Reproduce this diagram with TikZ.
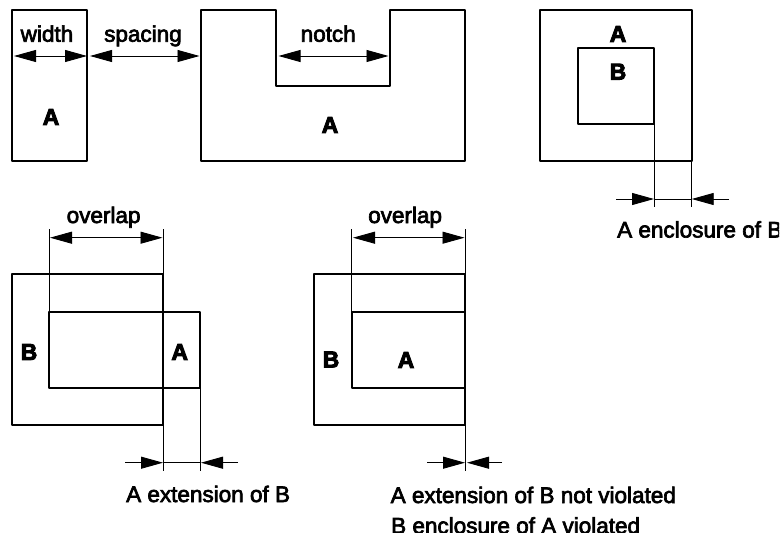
\documentclass[tikz,border=0pt]{standalone}
\usepackage{fontspec}
\setmainfont{Liberation Sans}
\newfontfamily\dimfont[FakeBold=3]{Liberation Sans}
\newfontfamily\layerfont[FakeBold=4]{Liberation Sans Bold}
\usetikzlibrary{arrows.meta}
\tikzset{
  shapeline/.style={line width=2pt, line join=round},
  dimline/.style={line width=0.9pt, {Triangle[length=22pt,width=12pt]}-{Triangle[length=22pt,width=12pt]}},
  tipline/.style={line width=0.9pt, -{Triangle[length=22pt,width=12pt]}},
  extline/.style={line width=0.9pt},
  dimlabel/.style={anchor=base west, inner sep=0pt, font=\dimfont\fontsize{22.5}{24}\selectfont},
  layerlabel/.style={inner sep=0pt, font=\layerfont\fontsize{23}{24}\selectfont},
}
\begin{document}
\begin{tikzpicture}[x=1pt,y=-1pt]
\useasboundingbox (0,0) rectangle (783,537);
\clip (0,0) rectangle (779,532);

% top row
\path[draw,shapeline] (11.7,10) rectangle (87.3,161.3);
\path[draw,shapeline] (200.5,10) -- (276,10) -- (276,85.7) -- (389.5,85.7) -- (389.5,10)
  -- (465,10) -- (465,161.3) -- (200.5,161.3) -- cycle;
\path[draw,shapeline] (540.3,10) rectangle (691.7,161.3);
\path[draw,shapeline] (578.3,47.7) rectangle (654,123.7);

\node[layerlabel] (widtha) at (51,117) {A};
\node[layerlabel] (notcha) at (330,125) {A};
\node[layerlabel] (encla) at (618,34) {A};
\node[layerlabel] (enclb) at (618,71.7) {B};

\node[dimlabel] (widthlab) at (20.5,41.7) {width};
\node[dimlabel] (spacinglab) at (104,41.7) {spacing};
\node[dimlabel] (notchlab) at (300.5,41.7) {notch};

\draw[dimline] (14,56) to (87,56);
\draw[dimline] (90,56) to (199.5,56);
\draw[dimline] (278.5,56) to (388.5,56);

% enclosure
\draw[extline] (654,123.7) to (654,206.7);
\draw[extline] (691.7,161.3) to (691.7,206.7);
\draw[tipline] (616,199) to (654,199);
\draw[tipline] (729,199) to (691.7,199);
\draw[extline] (654,199) to (691.7,199);
\node[dimlabel] (encllab) at (617,237.5) {A enclosure of B};

% lower left
\path[draw,shapeline] (11.7,274.3) rectangle (163,425.3);
\path[draw,shapeline] (49.3,312.3) rectangle (200.3,387.7);
\node[layerlabel] (leftb) at (29,352) {B};
\node[layerlabel] (lefta) at (179.7,352) {A};

\node[dimlabel] (overlaplab) at (66.5,223) {overlap};
\draw[extline] (49.3,229.3) to (49.3,312.3);
\draw[extline] (163,229.3) to (163,471);
\draw[extline] (200.3,387.7) to (200.3,471);
\draw[dimline] (50,237.7) to (162.5,237.7);
\draw[tipline] (125,462.7) to (163,462.7);
\draw[tipline] (238,462.7) to (201,462.7);
\draw[extline] (163,462.7) to (200.3,462.7);
\node[dimlabel] (extlab) at (126,502) {A extension of B};

% lower middle
\path[draw,shapeline] (314,274.3) rectangle (465,425.3);
\path[draw,shapeline] (351.7,312.3) rectangle (465,387.7);
\node[layerlabel] (midb) at (331,359.5) {B};
\node[layerlabel] (mida) at (406,360) {A};

\node[dimlabel] (overlapmid) at (368,223) {overlap};
\draw[extline] (351.7,229.3) to (351.7,312.3);
\draw[extline] (465,229.3) to (465,471);
\draw[dimline] (353,237.7) to (464.5,237.7);
\draw[tipline] (427,462.7) to (465,462.7);
\draw[tipline] (502,462.7) to (467,462.7);
\node[dimlabel] (notviol) at (390.5,503) {A extension of B not violated};
\node[dimlabel] (viol) at (391,533.5) {B enclosure of A violated};
\end{tikzpicture}
\end{document}
